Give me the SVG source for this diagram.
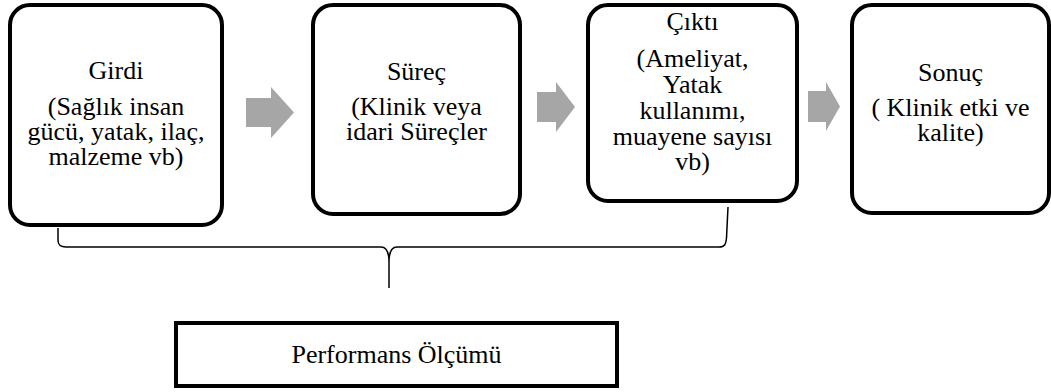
<svg xmlns="http://www.w3.org/2000/svg" width="1051" height="392" viewBox="0 0 1051 392">
  <style>
    .box { fill: #ffffff; stroke: #000000; stroke-width: 4; }
    .arrow { fill: #a6a6a6; }
    .label { font-family: 'Liberation Serif', 'Times New Roman', serif; font-size: 26px; fill: #000000; text-anchor: middle; }
    .brace { fill: none; stroke: #000000; stroke-width: 1.5; }
  </style>
  <rect width="1051" height="392" fill="#ffffff"/>

  <!-- flow arrows between stages -->
  <g id="connectors">
    <polygon class="arrow" points="246,98 271,98 271,87 294,112.5 271,138 271,127 246,127"/>
    <polygon class="arrow" points="537,92 556,92 556,82 575,107 556,132 556,122 537,122"/>
    <polygon class="arrow" points="808,91 826,91 826,82 840,106.5 826,131 826,122 808,122"/>
    <!-- brace grouping Girdi..Çıktı into the measurement box -->
    <path class="brace" d="M58,228 L58,240 C58,245 60,247 66,247 L381,247 C387,247 389,252 389,262 L389,288 M389,262 C389,252 391,247 397,247 L719,247 C725,247 726,244 726.5,238 L728,207"/>
  </g>

  <g id="girdi">
    <rect class="box" x="10" y="5" width="212" height="220" rx="20"/>
    <text class="label" x="116" y="79">Girdi</text>
    <text class="label" x="116" y="115">(Sağlık insan</text>
    <text class="label" x="116" y="140">gücü, yatak, ilaç,</text>
    <text class="label" x="116" y="165">malzeme vb)</text>
  </g>

  <g id="surec">
    <rect class="box" x="313" y="5" width="207" height="209" rx="20"/>
    <text class="label" x="416.5" y="80">Süreç</text>
    <text class="label" x="416.5" y="115">(Klinik veya</text>
    <text class="label" x="416.5" y="140">idari Süreçler</text>
  </g>

  <g id="cikti">
    <rect class="box" x="588" y="5" width="209" height="196" rx="20"/>
    <text class="label" x="692.5" y="30">Çıktı</text>
    <text class="label" x="692.5" y="67">(Ameliyat,</text>
    <text class="label" x="692.5" y="93">Yatak</text>
    <text class="label" x="692.5" y="119">kullanımı,</text>
    <text class="label" x="692.5" y="145">muayene sayısı</text>
    <text class="label" x="692.5" y="170">vb)</text>
  </g>

  <g id="sonuc">
    <rect class="box" x="852" y="5" width="197" height="208" rx="20"/>
    <text class="label" x="950.5" y="81">Sonuç</text>
    <text class="label" x="950.5" y="116">( Klinik etki ve</text>
    <text class="label" x="950.5" y="141">kalite)</text>
  </g>

  <g id="performans">
    <rect class="box" x="176" y="323" width="441" height="63"/>
    <text class="label" x="396.5" y="363">Performans Ölçümü</text>
  </g>
</svg>
